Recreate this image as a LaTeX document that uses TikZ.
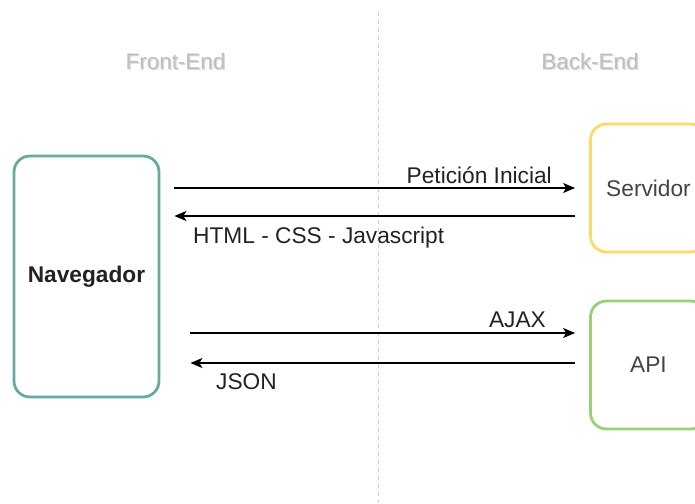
\documentclass[tikz,border=0pt]{standalone}
\usepackage{fontspec}
\setmainfont{Liberation Sans}
\usetikzlibrary{arrows.meta,calc}
\definecolor{navteal}{HTML}{67AB9F}
\definecolor{srvyellow}{HTML}{FFD966}
\definecolor{apigreen}{HTML}{97D077}
\definecolor{headgrey}{HTML}{BEBEBE}
\definecolor{headshadow}{HTML}{DADADA}
\definecolor{divider}{HTML}{CFCFCF}
\definecolor{labeltext}{HTML}{222222}
\begin{document}
\begin{tikzpicture}[x=1pt,y=-1pt,
  every node/.style={font=\fontsize{22.7}{27}\selectfont, text=labeltext, inner sep=0pt},
  roundbox/.style={rounded corners=16pt, line width=2.8pt, fill=white},
  arr/.style={line width=1.4pt, -{Stealth[length=12pt,width=10pt,inset=3pt]}},
  head/.style={font=\fontsize{22.4}{27}\selectfont, text=headgrey},
  headsh/.style={font=\fontsize{22.4}{27}\selectfont, text=headshadow}]
  \useasboundingbox (0,0) rectangle (695,503);
  \clip (0,0) rectangle (695,503);

  % divider between front and back end
  \coordinate (divtop) at (378,12);
  \coordinate (divbot) at (378,503);
  \draw[divider, line width=0.8pt, dash pattern=on 4pt off 4pt] (divtop) -- (divbot);

  % column headings, with a soft offset shadow
  \node[headsh] (fesh) at (176.8,62.8) {Front-End};
  \node[head] (fe) at (175.5,61.5) {Front-End};
  \node[headsh] (besh) at (591.3,62.8) {Back-End};
  \node[head] (be) at (590,61.5) {Back-End};

  % boxes
  \node[roundbox, draw=navteal, minimum width=145pt, minimum height=241pt,
        font=\fontsize{22.7}{27}\selectfont\bfseries] (nav) at (86.5,276.5) {Navegador};
  \node[roundbox, draw=srvyellow, minimum width=116pt, minimum height=128pt, text=labeltext!85!white] (srv) at (648.5,188) {Servidor};
  \node[roundbox, draw=apigreen, minimum width=116pt, minimum height=128pt, text=labeltext!85!white] (api) at (648.5,365) {API};

  % page request and response
  \draw[arr] ($(nav.east |- srv.west)+(14,0)$) -- ($(srv.west)+(-14,0)$);
  \draw[arr] ($(srv.west)+(-14,28)$) -- ($(nav.east |- srv.west)+(14,28)$);
  \node[anchor=east] (pet) at (552,175) {Petición Inicial};
  \node[anchor=west] (html) at (193,238) {HTML - CSS - Javascript};

  % asynchronous request and response
  \draw[arr] ($(nav.east |- api.west)+(30,-32)$) -- ($(api.west)+(-14,-32)$);
  \draw[arr] ($(api.west)+(-14,-2)$) -- ($(nav.east |- api.west)+(30,-2)$);
  \node[anchor=east] (ajax) at (546,320) {AJAX};
  \node[anchor=west] (json) at (216,382) {JSON};
\end{tikzpicture}
\end{document}
